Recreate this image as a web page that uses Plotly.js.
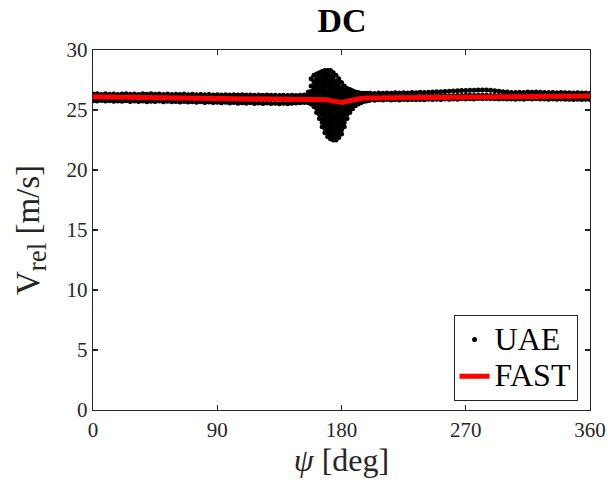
<!DOCTYPE html>
<html>
<head>
<meta charset="utf-8">
<script src="https://cdn.plot.ly/plotly-3.0.1.min.js"></script>
<style>html,body{margin:0;padding:0;background:#fff}#chart{width:608px;height:480px}</style>
</head>
<body>
<div id="chart"></div>
<script>
// ---- UAE measurements: steady band (psi, low / mid / high values of the scatter band) ----
const bandPsi = [0,3,6,9,12,15,18,21,24,27,30,33,36,39,42,45,48,51,54,57,60,63,66,69,72,75,78,81,84,87,90,93,96,99,102,105,108,111,114,117,120,123,126,129,132,135,138,141,144,147,150,153,
  201,204,207,210,213,216,219,222,225,228,231,234,237,240,243,246,249,252,255,258,261,264,267,270,273,276,279,282,285,288,291,294,297,300,303,306,309,312,315,318,321,324,327,330,333,336,339,342,345,348,351,354,357,360];
const bandLow = [25.78,25.75,25.8,25.74,25.77,25.72,25.76,25.73,25.78,25.7,25.74,25.71,25.76,25.69,25.73,25.7,25.75,25.68,25.72,25.69,25.71,25.66,25.7,25.67,25.69,25.64,25.68,25.63,25.66,25.62,25.65,25.6,25.64,25.58,25.62,25.57,25.61,25.56,25.6,25.55,25.59,25.54,25.58,25.55,25.57,25.52,25.56,25.53,25.56,25.58,25.6,25.62,
  25.85,25.82,25.86,25.83,25.87,25.84,25.86,25.83,25.87,25.85,25.88,25.85,25.88,25.86,25.89,25.87,25.9,25.88,25.91,25.89,25.92,25.9,25.93,25.91,25.94,25.92,25.95,25.93,25.95,25.93,25.94,25.92,25.93,25.91,25.92,25.9,25.92,25.9,25.93,25.91,25.93,25.91,25.92,25.9,25.92,25.9,25.91,25.89,25.9,25.88,25.9,25.88,25.89,25.88];
const bandMid = [26.05,26.08,26.04,26.06,26.03,26.07,26.02,26.05,26.08,26.03,26.06,26.02,26.05,26.03,26.07,26.02,26.05,26.03,26.06,26.01,26.04,26.02,26.05,26.0,26.03,26.0,26.02,25.99,26.01,25.98,26.0,25.97,26.0,25.97,25.99,25.96,25.98,25.95,25.98,25.95,25.97,25.94,25.96,25.93,25.95,25.93,25.95,25.92,25.94,25.93,25.95,25.94,
  26.12,26.1,26.13,26.11,26.14,26.11,26.13,26.12,26.14,26.12,26.15,26.13,26.15,26.14,26.16,26.15,26.17,26.16,26.18,26.17,26.19,26.2,26.21,26.22,26.22,26.21,26.23,26.22,26.23,26.21,26.2,26.19,26.18,26.17,26.16,26.15,26.17,26.16,26.18,26.17,26.19,26.18,26.17,26.16,26.17,26.15,26.16,26.15,26.16,26.14,26.15,26.14,26.15,26.14];
const bandHigh = [26.33,26.36,26.3,26.35,26.32,26.34,26.3,26.33,26.36,26.31,26.34,26.3,26.35,26.32,26.36,26.31,26.34,26.3,26.33,26.29,26.32,26.3,26.33,26.28,26.31,26.27,26.3,26.27,26.29,26.26,26.28,26.25,26.28,26.26,26.27,26.24,26.27,26.24,26.26,26.23,26.25,26.22,26.24,26.22,26.23,26.21,26.22,26.2,26.22,26.21,26.23,26.25,
  26.4,26.38,26.41,26.39,26.42,26.4,26.43,26.41,26.44,26.42,26.45,26.44,26.47,26.46,26.48,26.5,26.52,26.53,26.55,26.56,26.58,26.6,26.62,26.63,26.64,26.65,26.66,26.67,26.66,26.64,26.6,26.56,26.52,26.49,26.46,26.45,26.47,26.46,26.49,26.48,26.5,26.47,26.46,26.45,26.46,26.44,26.45,26.43,26.44,26.42,26.43,26.42,26.41,26.4];

// ---- UAE measurements: tower-shadow burst (psi column -> values read in that column) ----
const burstPsi = [156,158,160,162,164,166,168,170,172,174,176,178,180,182,184,186,188,190,192,194,196,198,200];
const burstV = [
  [25.6,25.9,26.2,26.5],
  [25.5,25.85,26.2,26.55,27.0,27.6],
  [25.3,25.65,26.0,26.35,26.7,27.05,27.4,27.9],
  [24.8,25.15,25.5,25.85,26.2,26.55,26.9,27.25,27.6,28.0],
  [24.3,24.65,25.0,25.35,25.7,26.05,26.4,26.75,27.1,27.45,27.8,28.1],
  [23.6,23.95,24.3,24.65,25.0,25.35,25.7,26.05,26.4,26.75,27.1,27.45,27.8,28.2],
  [23.1,23.45,23.8,24.15,24.5,24.85,25.2,25.55,25.9,26.25,26.6,26.95,27.3,27.65,28.0,28.3],
  [22.8,23.15,23.5,23.85,24.2,24.55,24.9,25.25,25.6,25.95,26.3,26.65,27.0,27.35,27.7,28.0,28.3],
  [22.6,22.95,23.3,23.65,24.0,24.35,24.7,25.05,25.4,25.75,26.1,26.45,26.8,27.15,27.5,27.85,28.3],
  [22.5,22.85,23.2,23.55,23.9,24.25,24.6,24.95,25.3,25.65,26.0,26.35,26.7,27.05,27.4,27.75,28.1],
  [22.5,22.85,23.2,23.55,23.9,24.25,24.6,24.95,25.3,25.65,26.0,26.35,26.7,27.05,27.4,27.9],
  [22.7,23.05,23.4,23.75,24.1,24.45,24.8,25.15,25.5,25.85,26.2,26.55,26.9,27.25,27.6],
  [23.0,23.35,23.7,24.05,24.4,24.75,25.1,25.45,25.8,26.15,26.5,26.85,27.3],
  [23.6,23.95,24.3,24.65,25.0,25.35,25.7,26.05,26.4,26.7,27.0],
  [24.3,24.65,25.0,25.35,25.7,26.05,26.4,26.8],
  [24.8,25.15,25.5,25.85,26.2,26.45,26.7],
  [25.1,25.45,25.8,26.1,26.35,26.6],
  [25.35,25.7,26.0,26.25,26.5],
  [25.5,25.8,26.1,26.45],
  [25.6,25.9,26.15,26.4],
  [25.7,26.0,26.2,26.4],
  [25.75,26.05,26.4],
  [25.8,26.1,26.4]
];

// ---- FAST simulation ----
const fastPsi = [0,20,40,60,80,100,120,140,155,165,170,175,178,181,185,190,195,200,220,240,260,280,300,320,340,360];
const fastV   = [26.1,26.08,26.05,26.03,26.0,25.98,25.96,25.95,25.95,25.93,25.85,25.72,25.62,25.62,25.75,25.9,25.98,26.0,26.02,26.05,26.08,26.1,26.12,26.14,26.15,26.16];

// ---- axis ticks / labels ----
const xTicks = [0,90,180,270,360];
const yTicks = [0,5,10,15,20,25,30];
const seriesNames = ['UAE', 'FAST'];

// assemble UAE points
const uaeX = [], uaeY = [];
bandPsi.forEach((p,i) => {
  uaeX.push(p,p,p); uaeY.push(bandLow[i], bandMid[i], bandHigh[i]);
});
burstPsi.forEach((p,i) => {
  burstV[i].forEach(v => { uaeX.push(p); uaeY.push(v); });
});

const FONT = '"Liberation Serif", "Times New Roman", Times, serif';
const AX = '#262626';
const big = s => '<span style="font-size:32px">' + s + '</span>';

const traces = [
  {x: uaeX, y: uaeY, type: 'scatter', mode: 'markers', name: big(seriesNames[0]),
   marker: {color: '#000', size: 5}},
  {x: fastPsi, y: fastV, type: 'scatter', mode: 'lines', name: big(seriesNames[1]),
   line: {color: '#ff0000', width: 5}}
];

const axisCommon = {
  showgrid: false, zeroline: false, showline: true, mirror: 'ticks',
  linecolor: AX, linewidth: 1.3, ticks: 'inside', ticklen: 5, tickwidth: 1.3, tickcolor: AX,
  tickfont: {family: FONT, size: 21, color: AX}
};

const layout = {
  width: 608, height: 480,
  margin: {l: 93, r: 18, t: 50, b: 70},
  paper_bgcolor: '#fff', plot_bgcolor: '#fff',
  font: {family: FONT},
  title: {text: '<b>DC</b>', font: {family: FONT, size: 34, color: '#000'},
          x: 0.5625, xanchor: 'center', y: 0.958, yanchor: 'middle'},
  xaxis: Object.assign({}, axisCommon, {
    range: [0, 360], tickvals: xTicks, ticktext: xTicks.map(String),
    title: {text: '<i>ψ</i> [deg]', font: {family: FONT, size: 32, color: AX}, standoff: 6}
  }),
  yaxis: Object.assign({}, axisCommon, {
    range: [0, 30], tickvals: yTicks, ticktext: yTicks.map(String),
    title: {text: 'V<sub><span style="font-size:27px">rel</span></sub> [m/s]',
            font: {family: FONT, size: 33, color: AX}, standoff: 17}
  }),
  showlegend: true,
  legend: {x: 0.975, xanchor: 'right', y: 0.025, yanchor: 'bottom',
           bordercolor: AX, borderwidth: 1, bgcolor: '#fff',
           font: {family: FONT, size: 26, color: '#000'}, tracegroupgap: 0}
};

Plotly.newPlot('chart', traces, layout, {displayModeBar: false, staticPlot: true});
</script>
</body>
</html>
